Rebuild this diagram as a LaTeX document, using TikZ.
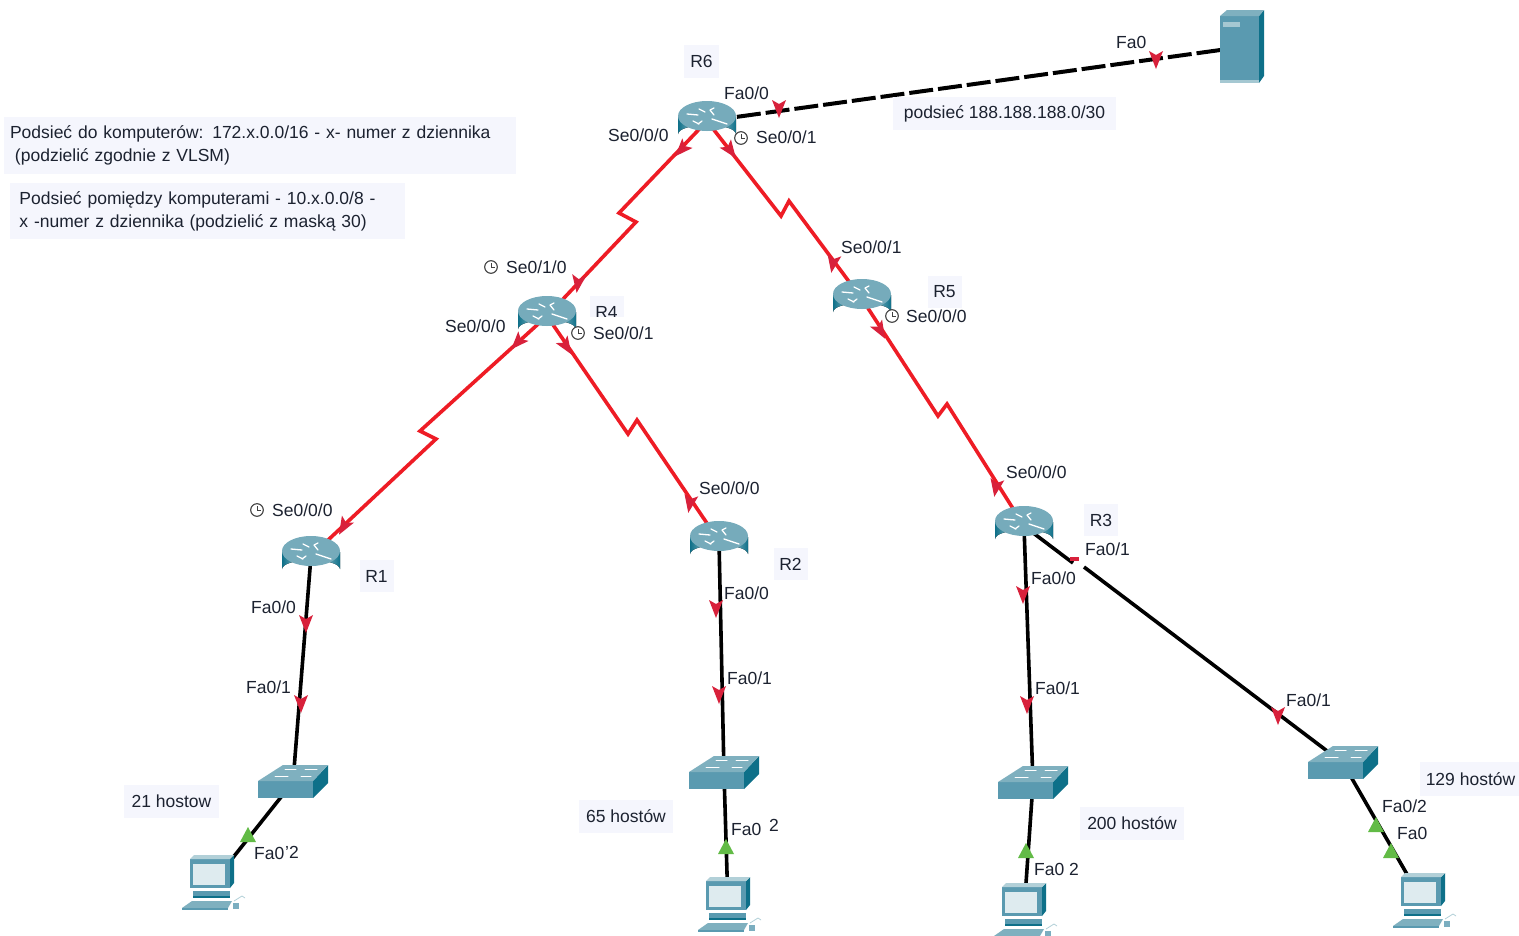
\documentclass[tikz,border=0pt]{standalone}
\usepackage{fontspec}
\setmainfont{Liberation Sans}
\definecolor{labbg}{HTML}{F5F6FD}
\definecolor{wirered}{HTML}{EE1C25}
\definecolor{mkred}{HTML}{D8213B}
\definecolor{mkgreen}{HTML}{62BB46}
\definecolor{devtop}{HTML}{7FB0BF}
\definecolor{devfront}{HTML}{5A9AB0}
\definecolor{devside}{HTML}{0E7089}
\definecolor{devdark}{HTML}{3F8299}
\definecolor{txt}{HTML}{1C2230}
\tikzset{
  x=1pt,y=-1pt,
  iface/.style={anchor=west,inner sep=0pt,font=\fontsize{17.5}{20}\selectfont,text=txt},
  boxlab/.style={fill=labbg,inner sep=0pt,font=\fontsize{17.5}{20}\selectfont,text=txt,align=center},
  notelab/.style={fill=labbg,inner sep=0pt,font=\fontsize{17.5}{23}\selectfont,text=txt,align=left},
  ser/.style={draw=wirered,line width=3.6pt,line join=miter},
  wire/.style={draw=black,line width=3.6pt},
  fibre/.style={draw=black,line width=4pt,dash pattern=on 24pt off 5pt},
  dev/.style={inner sep=0pt,minimum size=2pt},
  router/.pic={
    \fill[left color=devside,right color=devside,middle color=white!80!devtop]
      (-29,-4) -- (-29,13) arc[start angle=180,end angle=360,x radius=29,y radius=9]
      -- (29,-4) -- cycle;
    \fill[devtop!92!devside] (0,-5) ellipse[x radius=29,y radius=15];
    \draw[white,line width=1.3pt,line cap=round]
      (-20,-7) -- (-9,-6) (-14,0) -- (-8,3) (-9,3) -- (-5,0)
      (5,-2) -- (20,3) (3,-11) -- (7,-6) (7,-13) -- (3,-11)
      (-8,-12) -- (-2,-9);
  },
  switchic/.pic={
    \fill[devfront] (-35,-1) -- (20,-1) -- (20,16) -- (-35,16) -- cycle;
    \fill[devside] (20,-1) -- (35,-17) -- (35,1) -- (20,16) -- cycle;
    \fill[devtop] (-35,-1) -- (-10,-17) -- (35,-17) -- (20,-1) -- cycle;
    \draw[white,line width=1pt,line cap=round]
      (-8,-13) -- (3,-13) (12,-13) -- (24,-13) (-18,-6) -- (-5,-6) (8,-6) -- (18,-6);
  },
  pcic/.pic={
    \fill[devfront] (-22,-25) -- (18,-25) -- (18,4) -- (-22,4) -- cycle;
    \fill[devside] (18,-25) -- (22,-29) -- (22,-1) -- (18,4) -- cycle;
    \fill[devtop!60!white] (-22,-25) -- (-18,-29) -- (22,-29) -- (18,-25) -- cycle;
    \fill[white!80!devfront] (-19,-20) rectangle (13,1);
    \fill[devfront] (-19,7) rectangle (18,12);
    \fill[devside] (-19,12) rectangle (18,14);
    \fill[devtop] (-20,17) -- (20,17) -- (16,24) -- (-30,24) -- cycle;
    \fill[devfront] (-30,24) rectangle (16,26);
    \fill[devfront!80!white] (21,19) rectangle (27,25);
    \draw[devtop!60!white,line width=.8pt] (22,17) -- (30,12) -- (33,14);
  },
  serveric/.pic={
    \fill[devfront] (-22,-31) rectangle (17,36);
    \fill[devside] (17,-31) -- (22,-37) -- (22,29) -- (17,36) -- cycle;
    \fill[devtop] (-22,-31) -- (-15,-37) -- (22,-37) -- (17,-31) -- cycle;
    \fill[devtop!70!white] (-19,-25) rectangle (-2,-20);
    \fill[devtop!70!white] (-22,33) rectangle (17,36);
  },
  clockic/.pic={
    \draw[line width=1.1pt,draw=black!75,fill=white] (0,0) circle[radius=6.3];
    \draw[line width=1pt,draw=black!75] (0,-4) -- (0,0) -- (4,0);
  },
  redmk/.pic={\fill[mkred] (0,10) -- (-7,-8) -- (0,-4) -- (7,-8) -- cycle;},
  greenmk/.pic={\fill[mkgreen] (0,-9) -- (8,6) -- (-8,6) -- cycle;}
}
\begin{document}
\begin{tikzpicture}
\clip (0,0) rectangle (1519,935);
\fill[white] (0,0) rectangle (1519,935);

% device anchors
\node[dev] (r6) at (707,121) {};
\node[dev] (r4) at (547,316) {};
\node[dev] (r5) at (862,299) {};
\node[dev] (r1) at (311,556) {};
\node[dev] (r2) at (719,541) {};
\node[dev] (r3) at (1024,526) {};
\node[dev] (s1) at (293,782) {};
\node[dev] (s2) at (724,773) {};
\node[dev] (s3) at (1033,783) {};
\node[dev] (s4) at (1343,763) {};
\node[dev] (p1) at (212,884) {};
\node[dev] (p2) at (728,906) {};
\node[dev] (p3) at (1024,912) {};
\node[dev] (p4) at (1423,902) {};
\node[dev] (srv) at (1242,47) {};
\coordinate (gapa) at (1073,563);
\coordinate (gapb) at (1084,567);

% connectors
\draw[fibre] (r6) -- (srv);
\draw[ser] (r6) -- (619,213) -- (636,222) -- (r4);
\draw[ser] (r6) -- (781,216) -- (789,201) -- (r5);
\draw[ser] (r4) -- (420,431) -- (436,439) -- (r1);
\draw[ser] (r4) -- (628,434) -- (637,420) -- (r2);
\draw[ser] (r5) -- (938,416) -- (947,404) -- (r3);
\draw[wire] (r1) -- (s1);
\draw[wire] (r2) -- (s2);
\draw[wire] (r3) -- (s3);
\draw[wire] (r3) -- (gapa);
\draw[wire] (gapb) -- (s4);
\draw[wire] (s1) -- (p1);
\draw[wire] (s2) -- (p2);
\draw[wire] (s3) -- (p3);
\draw[wire] (s4) -- (p4);
\fill[mkred] (1070,557) rectangle (1079,561);

% link markers
\pic at (779,108) {redmk};
\pic at (1156,59) {redmk};
\pic[rotate=-43] at (682,149) {redmk};
\pic[rotate=36] at (730,150) {redmk};
\pic[rotate=-8] at (578,283) {redmk};
\pic[rotate=-10] at (833,263) {redmk};
\pic[rotate=-43] at (518,342) {redmk};
\pic[rotate=33] at (566,346) {redmk};
\pic[rotate=-30] at (344,526) {redmk};
\pic[rotate=-10] at (690,503) {redmk};
\pic[rotate=30] at (880,330) {redmk};
\pic[rotate=-10] at (996,487) {redmk};
\pic at (306,623) {redmk};
\pic at (301,703) {redmk};
\pic at (716,608) {redmk};
\pic at (719,694) {redmk};
\pic at (1023,594) {redmk};
\pic at (1027,704) {redmk};
\pic at (1278,715) {redmk};
\pic at (248,836) {greenmk};
\pic at (726,848) {greenmk};
\pic at (1026,852) {greenmk};
\pic at (1376,826) {greenmk};
\pic at (1391,852) {greenmk};

% devices
\foreach \a in {r6,r4,r5,r1,r2,r3}{\pic at (\a) {router};}
\foreach \a in {s1,s2,s3,s4}{\pic at (\a) {switchic};}
\foreach \a in {p1,p2,p3,p4}{\pic at (\a) {pcic};}
\pic at (srv) {serveric};

% clocks
\pic at (741,138) {clockic};
\pic at (491,267) {clockic};
\pic at (578,333) {clockic};
\pic at (892,316) {clockic};
\pic at (257,510) {clockic};

% notes
\node[notelab,minimum width=512,minimum height=57,text width=500] (note1) at (260,145.5)
  {Podsieć do komputerów: 172.x.0.0/16 - x- numer z dziennika\\\hspace*{5pt}(podzielić zgodnie z VLSM)};
\node[notelab,minimum width=395,minimum height=56,text width=376] (note2) at (207.5,211)
  {Podsieć pomiędzy komputerami - 10.x.0.0/8 -\\x -numer z dziennika (podzielić z maską 30)};
\node[boxlab,minimum width=223,minimum height=33] (subnet) at (1004.5,113.5) {podsieć 188.188.188.0/30};
\node[boxlab,minimum width=95,minimum height=33] (h21) at (171.5,801.5) {21 hostow};
\node[boxlab,minimum width=94,minimum height=33] (h65) at (626,816.5) {65 hostów};
\node[boxlab,minimum width=104,minimum height=33] (h200) at (1132,823.5) {200 hostów};
\node[boxlab,minimum width=101,minimum height=34] (h129) at (1470.5,779) {129 hostów};

% router names
\node[boxlab,minimum width=35,minimum height=33] (nr6) at (701.5,61.5) {R6};
\node[boxlab,minimum width=34,minimum height=32] (nr5) at (944.5,292) {R5};
\node[boxlab,minimum width=34,minimum height=32] (nr3) at (1101,520) {R3};
\node[boxlab,minimum width=34,minimum height=32] (nr2) at (790.5,564) {R2};
\node[boxlab,minimum width=34,minimum height=32] (nr1) at (376.5,576) {R1};
\node[boxlab,minimum width=34,minimum height=32] (nr4) at (606.5,312) {R4};
\fill[white] (586,317) rectangle (660,345);

% interface labels
\node[iface] (l1) at (1116,42) {Fa0};
\node[iface] (l2) at (724,93) {Fa0/0};
\node[iface] (l3) at (608,135) {Se0/0/0};
\node[iface] (l4) at (756,137) {Se0/0/1};
\node[iface] (l5) at (506,267) {Se0/1/0};
\node[iface] (l6) at (841,247) {Se0/0/1};
\node[iface] (l7) at (445,326) {Se0/0/0};
\node[iface] (l8) at (593,333) {Se0/0/1};
\node[iface] (l9) at (906,316) {Se0/0/0};
\node[iface] (l10) at (1006,472) {Se0/0/0};
\node[iface] (l11) at (699,488) {Se0/0/0};
\node[iface] (l12) at (272,510) {Se0/0/0};
\node[iface] (l13) at (1085,549) {Fa0/1};
\node[iface] (l14) at (1031,578) {Fa0/0};
\node[iface] (l15) at (724,593) {Fa0/0};
\node[iface] (l16) at (251,607) {Fa0/0};
\node[iface] (l17) at (727,678) {Fa0/1};
\node[iface] (l18) at (246,687) {Fa0/1};
\node[iface] (l19) at (1035,688) {Fa0/1};
\node[iface] (l20) at (1286,700) {Fa0/1};
\node[iface] (l21) at (1382,806) {Fa0/2};
\node[iface] (l22) at (1397,833) {Fa0};
\node[iface] (l23) at (731,829) {Fa0};
\node[iface] (l24) at (769,825) {2};
\node[iface] (l25) at (254,853) {Fa0};
\node[iface] (l26) at (285,852) {'2};
\node[iface] (l27) at (1034,869) {Fa0 2};
\end{tikzpicture}
\end{document}
